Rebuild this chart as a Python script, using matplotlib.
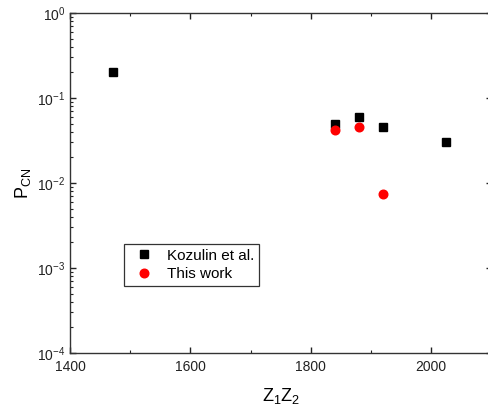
import matplotlib
matplotlib.use('Agg')
import matplotlib.pyplot as plt
from matplotlib.ticker import LogLocator, MultipleLocator

plt.rcParams['font.family'] = ['Liberation Sans', 'DejaVu Sans']
plt.rcParams['mathtext.fontset'] = 'custom'
plt.rcParams['mathtext.rm'] = 'Liberation Sans'
plt.rcParams['axes.unicode_minus'] = False

# data
kozulin_z = [1472, 1840, 1880, 1920, 2024]
kozulin_p = [0.20, 0.050, 0.060, 0.045, 0.030]
this_z = [1840, 1880, 1920]
this_p = [0.042, 0.045, 0.0074]

W, H = 488, 412
fig = plt.figure(figsize=(W / 100, H / 100), dpi=100)
ax = fig.add_axes([70 / W, (H - 353) / H, (491.5 - 70) / W, (353 - 13) / H])

ax.plot(kozulin_z, kozulin_p, 's', color='black', markersize=5.8, label='Kozulin et al.')
ax.plot(this_z, this_p, 'o', color='#ff0000', markersize=6.2, label='This work')

ax.set_yscale('log')
ax.set_xlim(1400, 2100)
ax.set_ylim(1e-4, 1)
ax.xaxis.set_major_locator(MultipleLocator(200))
ax.xaxis.set_minor_locator(MultipleLocator(100))
ax.yaxis.set_major_locator(LogLocator(base=10, numticks=10))
ax.yaxis.set_minor_locator(LogLocator(base=10, subs=range(2, 10), numticks=20))

ax.tick_params(which='both', direction='in', top=True, right=True, labelsize=10, colors='#222222')
ax.tick_params(which='major', length=4.5, width=1)
ax.tick_params(which='minor', length=2.5, width=0.8)
ax.tick_params(axis='x', pad=5)
for s in ax.spines.values():
    s.set_linewidth(1.0)
    s.set_color('#333333')

ax.set_xlabel(r'$\mathregular{Z_1Z_2}$', fontsize=13, labelpad=9)
ax.set_ylabel(r'$\mathregular{P_{CN}}$', fontsize=13, labelpad=3)

leg = ax.legend(loc='upper left', bbox_to_anchor=(124 / W, 1 - 244 / H),
                bbox_transform=fig.transFigure, fontsize=11, frameon=True,
                fancybox=False, edgecolor='black', borderpad=0.3,
                handletextpad=0.5, labelspacing=0.3, handlelength=2.0,
                borderaxespad=0)
leg.get_frame().set_linewidth(0.9)

fig.savefig('out.png', dpi=100)
